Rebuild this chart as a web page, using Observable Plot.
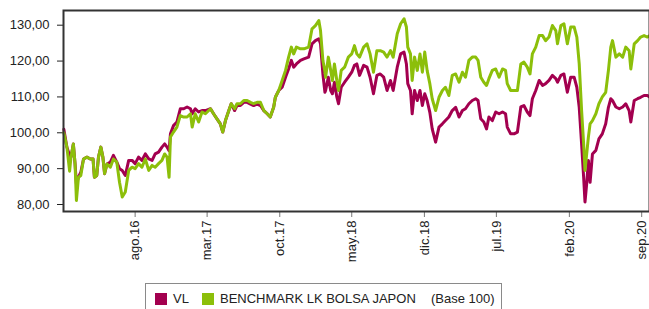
<!DOCTYPE html>
<html>
<head>
<meta charset="utf-8">
<script src="https://cdn.jsdelivr.net/npm/d3@7"></script>
<script src="https://cdn.jsdelivr.net/npm/@observablehq/plot@0.6"></script>
<style>
  html, body { margin: 0; padding: 0; background: #fff; overflow: hidden; width: 649px; height: 309px; }
  #wrap { position: relative; width: 649px; height: 309px; font-family: "Liberation Sans", Arial, sans-serif; }
  #legend { position: absolute; left: 145px; top: 283px; width: 357px; height: 32px; border: 1px solid #8a8a8a; box-sizing: border-box; font-size: 13px; color: #222; }
  #legend .sw { position: absolute; top: 9px; width: 12px; height: 12px; }
  #legend .tx { position: absolute; top: 7px; line-height: 15px; white-space: nowrap; }
</style>
</head>
<body>
<div id="wrap">
  <div id="chart"></div>
  <div id="legend"></div>
</div>
<script>
const seriesNames = ["VL", "BENCHMARK LK BOLSA JAPON"];
const seriesColors = ["#a3004f", "#8cbf0a"];
const baseNote = "(Base 100)";

const tickDates = ["2016-08-01","2017-03-01","2017-10-01","2018-05-01","2018-12-01","2019-07-01","2020-02-01","2020-09-01"];
const tickLabels = ["ago.16","mar.17","oct.17","may.18","dic.18","jul.19","feb.20","sep.20"];
const yTicks = [80, 90, 100, 110, 120, 130];

const dates = [
"2016-01-04","2016-01-13","2016-01-21","2016-01-25","2016-02-01","2016-02-06","2016-02-10","2016-02-16","2016-02-23","2016-03-02",
"2016-03-12","2016-03-22","2016-03-30","2016-04-03","2016-04-10","2016-04-15","2016-04-22","2016-04-28","2016-05-03","2016-05-10",
"2016-05-20","2016-05-29","2016-06-08","2016-06-16","2016-06-24","2016-07-03","2016-07-13","2016-07-23","2016-08-01","2016-08-11",
"2016-08-21","2016-08-31","2016-09-10","2016-09-20","2016-09-29","2016-10-09","2016-10-19","2016-10-27","2016-11-03","2016-11-09",
"2016-11-13","2016-11-22","2016-12-02","2016-12-12","2016-12-22","2017-01-01","2017-01-11","2017-01-16","2017-01-25","2017-02-04",
"2017-02-14","2017-02-24","2017-03-11","2017-03-20","2017-03-30","2017-04-09","2017-04-16","2017-04-24","2017-05-04","2017-05-11",
"2017-05-21","2017-05-28","2017-06-07","2017-06-17","2017-06-27","2017-07-07","2017-07-16","2017-07-26","2017-08-05","2017-08-15",
"2017-08-25","2017-09-03","2017-09-13","2017-09-18","2017-09-28","2017-10-08","2017-10-18","2017-10-27","2017-11-04","2017-11-11",
"2017-11-19","2017-12-01","2017-12-11","2017-12-25","2018-01-04","2018-01-14","2018-01-24","2018-01-29","2018-02-05","2018-02-11",
"2018-02-13","2018-02-21","2018-02-28","2018-03-05","2018-03-11","2018-03-18","2018-03-23","2018-03-31","2018-04-10","2018-04-21",
"2018-05-01","2018-05-09","2018-05-16","2018-05-24","2018-06-05","2018-06-15","2018-06-24","2018-07-04","2018-07-14","2018-07-24",
"2018-08-03","2018-08-13","2018-08-23","2018-08-31","2018-09-12","2018-09-22","2018-10-02","2018-10-09","2018-10-13","2018-10-21",
"2018-10-26","2018-11-02","2018-11-10","2018-11-18","2018-11-25","2018-12-02","2018-12-09","2018-12-17","2018-12-24","2019-01-03",
"2019-01-13","2019-01-23","2019-02-01","2019-02-11","2019-02-21","2019-03-03","2019-03-13","2019-03-23","2019-04-01","2019-04-11",
"2019-04-21","2019-05-01","2019-05-08","2019-05-16","2019-05-25","2019-06-02","2019-06-09","2019-06-19","2019-06-29","2019-07-09",
"2019-07-19","2019-07-28","2019-08-02","2019-08-12","2019-08-22","2019-09-01","2019-09-11","2019-09-20","2019-09-30","2019-10-08",
"2019-10-15","2019-10-25","2019-11-04","2019-11-14","2019-11-23","2019-12-03","2019-12-13","2019-12-23","2019-12-28","2020-01-07",
"2020-01-16","2020-01-26","2020-02-05","2020-02-15","2020-02-23","2020-03-01","2020-03-08","2020-03-14","2020-03-18","2020-03-23",
"2020-03-28","2020-04-02","2020-04-09","2020-04-19","2020-04-28","2020-05-08","2020-05-18","2020-05-26","2020-06-02","2020-06-07",
"2020-06-17","2020-06-27","2020-07-07","2020-07-16","2020-07-26","2020-07-31","2020-08-10","2020-08-20","2020-08-29","2020-09-08",
"2020-09-18","2020-09-24"
];

const vl = [
101.0,96.0,93.7,93.2,96.9,91.4,85.8,87.6,89.0,92.7,
93.2,92.7,92.7,87.6,88.1,93.2,96.0,93.2,88.6,91.3,
91.8,93.7,91.8,90.0,89.5,88.1,92.3,92.3,91.4,93.2,
92.3,94.1,92.7,92.3,94.1,94.6,96.0,96.9,96.0,95.0,
99.7,102.0,103.0,106.7,106.7,107.2,106.7,105.3,106.7,105.8,
106.2,106.2,106.7,105.3,103.9,102.5,100.2,103.4,106.2,108.1,
106.2,107.6,107.6,108.5,108.5,108.0,107.6,108.0,107.6,106.2,
105.3,104.4,107.1,109.9,111.8,112.7,115.5,117.8,120.2,118.3,
119.2,120.2,120.6,121.1,124.8,125.7,126.2,124.8,116.4,111.3,
111.8,115.5,111.8,110.9,114.1,110.0,108.1,112.7,114.1,115.5,
116.9,118.8,119.2,116.0,118.8,118.3,115.5,110.9,116.0,116.4,
115.5,111.8,114.6,111.8,118.3,122.0,122.5,119.2,113.7,111.8,
105.3,111.8,109.0,111.8,107.6,110.9,109.0,105.7,101.1,97.4,
101.6,102.5,103.4,104.4,106.2,107.1,104.4,106.2,106.7,108.1,
109.0,109.5,109.0,103.9,103.0,101.1,104.4,103.4,105.8,105.3,
105.8,105.3,101.6,99.7,99.7,100.2,107.2,107.6,105.8,104.8,
109.5,111.8,114.6,113.2,113.7,114.6,116.0,115.1,114.1,116.0,
116.4,111.3,115.5,115.5,112.7,107.1,96.9,87.6,80.7,85.8,
92.3,86.2,94.1,95.1,98.3,99.7,102.5,107.1,109.5,109.0,
107.2,106.7,107.2,108.1,106.2,103.0,109.0,109.5,109.9,110.4,
110.4,110.0
];

const bench = [
100.0,96.0,89.3,93.2,96.9,91.4,81.1,87.6,88.1,92.7,
93.2,92.7,92.7,87.6,88.1,93.2,96.0,93.2,88.6,91.3,
90.4,92.7,91.8,86.2,82.1,83.5,89.5,90.4,90.0,91.4,
90.4,92.7,89.5,90.9,90.4,91.4,92.3,94.1,93.2,87.6,
98.8,100.2,101.6,104.8,104.4,104.4,105.3,101.6,105.3,103.0,
105.8,105.3,106.7,105.3,103.9,102.5,100.2,103.4,106.2,108.1,
106.7,108.1,108.1,109.0,109.0,108.5,108.1,108.5,108.5,106.2,
105.3,104.4,107.1,109.9,111.8,114.6,117.4,121.1,123.9,122.0,
123.9,123.4,123.4,123.9,129.0,129.9,131.3,128.5,120.2,117.0,
115.5,121.1,117.4,114.6,119.2,114.6,111.8,117.4,118.3,121.1,
122.0,124.3,122.0,121.1,123.9,124.8,122.0,116.9,122.9,122.9,
122.5,121.1,122.9,121.1,127.6,130.4,131.8,129.5,123.9,122.0,
114.6,121.1,117.4,122.0,116.9,122.5,117.4,113.7,109.5,106.2,
109.9,111.8,112.7,110.4,116.0,116.4,114.1,116.9,115.5,120.2,
121.1,121.1,120.2,115.5,114.1,113.2,115.1,117.4,117.8,115.5,
117.8,117.4,113.7,111.8,111.8,111.8,119.2,119.7,118.3,116.4,
122.0,123.9,127.1,127.1,125.7,126.7,129.9,128.5,124.8,129.9,
130.4,124.8,129.5,129.5,126.7,119.2,106.2,96.9,89.5,94.1,
98.8,102.5,103.4,105.3,108.1,110.0,111.3,117.4,123.9,125.7,
121.1,122.0,121.1,123.9,122.9,117.8,124.8,125.7,126.7,127.1,
126.7,127.1
];

const table = dates.map((d, i) => ({date: new Date(d + "T00:00:00Z"), vl: vl[i], bench: bench[i]}));
const tickDateObjs = tickDates.map(d => new Date(d + "T00:00:00Z"));
const labelMap = new Map(tickDateObjs.map((d, i) => [+d, tickLabels[i]]));

const chart = Plot.plot({
  width: 649,
  height: 278,
  marginLeft: 63,
  marginRight: 0,
  marginTop: 10,
  marginBottom: 67,
  style: {fontFamily: "'Liberation Sans', Arial, sans-serif", fontSize: "13px", color: "#222", background: "#fff"},
  x: {type: "utc", domain: [new Date("2016-01-03T00:00:00Z"), new Date("2020-09-24T00:00:00Z")]},
  y: {domain: [78.05, 134.1]},
  marks: [
    Plot.axisY({ticks: yTicks, tickFormat: d => d.toFixed(2).replace(".", ","), tickSize: 6, tickPadding: 8, label: null, fontSize: 13}),
    Plot.axisX({ticks: tickDateObjs, tickFormat: d => labelMap.get(+d), tickRotate: -90, tickSize: 6, tickPadding: 3, label: null, fontSize: 13, stroke: "#777"}),
    Plot.line(table, {x: "date", y: "vl", stroke: seriesColors[0], strokeWidth: 3}),
    Plot.line(table, {x: "date", y: "bench", stroke: seriesColors[1], strokeWidth: 3}),
    Plot.frame({stroke: "#333", strokeWidth: 2})
  ]
});
document.getElementById("chart").appendChild(chart);

const legend = document.getElementById("legend");
const items = [
  {kind: "sw", left: 9, color: seriesColors[0]},
  {kind: "tx", left: 27, text: seriesNames[0]},
  {kind: "sw", left: 56, color: seriesColors[1]},
  {kind: "tx", left: 74, text: seriesNames[1]},
  {kind: "tx", left: 285, text: baseNote}
];
for (const it of items) {
  const el = document.createElement("div");
  el.className = it.kind;
  el.style.left = it.left + "px";
  if (it.kind === "sw") el.style.background = it.color; else el.textContent = it.text;
  legend.appendChild(el);
}
</script>
</body>
</html>
